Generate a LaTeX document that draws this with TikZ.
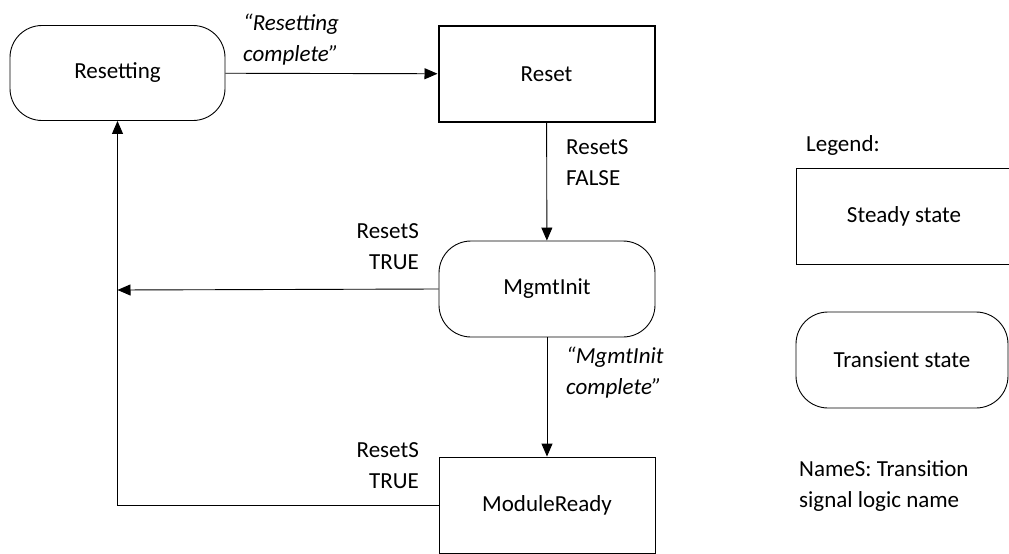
\documentclass[tikz,border=0pt]{standalone}
\usepackage{fontspec}
\setmainfont{Carlito}
\usetikzlibrary{arrows.meta}
\begin{document}
\begin{tikzpicture}[x=1pt,y=-1pt,
  font=\fontsize{23}{31}\selectfont,
  sq/.style={draw, line width=0.9pt, minimum width=216pt, minimum height=96pt, inner sep=0pt},
  trans/.style={sq, rounded corners=32pt},
  lbl/.style={inner sep=0pt},
  ilbl/.style={lbl, font=\fontsize{23}{31}\selectfont\itshape},
  conn/.style={draw, line width=0.9pt, -{Triangle[length=13pt,width=11pt]}}]
\useasboundingbox (0,0) rectangle (1009,554);
% states
\node[trans, minimum width=215pt, minimum height=95pt] (rs) at (117.5,73) {Resetting};
\node[sq, line width=2pt] (r) at (546.5,74) {Reset};
\node[trans] (mi) at (547,289) {MgmtInit};
\node[sq] (mr) at (547,505) {ModuleReady};
% legend
\node[lbl, anchor=west] (lg) at (806,145) {Legend:};
\node[sq, minimum width=216pt] (ls) at (904,216) {Steady state};
\node[trans, minimum width=212pt] (lt) at (902,360) {Transient state};
\node[lbl, anchor=west, align=left] (ln) at (799,486) {NameS: Transition\\signal logic name};
% labels
\node[ilbl, anchor=west, align=left] (l1) at (243,40) {“Resetting\\complete”};
\node[lbl, anchor=west, align=left] (l2) at (566,163) {ResetS\\FALSE};
\node[ilbl, anchor=west, align=left] (l3) at (566,373) {“MgmtInit\\complete”};
\node[lbl, anchor=east, align=right] (l4) at (419,247) {ResetS\\TRUE};
\node[lbl, anchor=east, align=right] (l5) at (419,466) {ResetS\\TRUE};
% connectors
\coordinate (j) at (117.5,290);
\draw[conn] (rs) -- (r);
\draw[conn] (r) -- (mi);
\draw[conn] (mi) -- (mr);
\draw[conn] (mi.west) -- (j);
\draw[conn] (mr.west) -| (rs.south);
\end{tikzpicture}
\end{document}
